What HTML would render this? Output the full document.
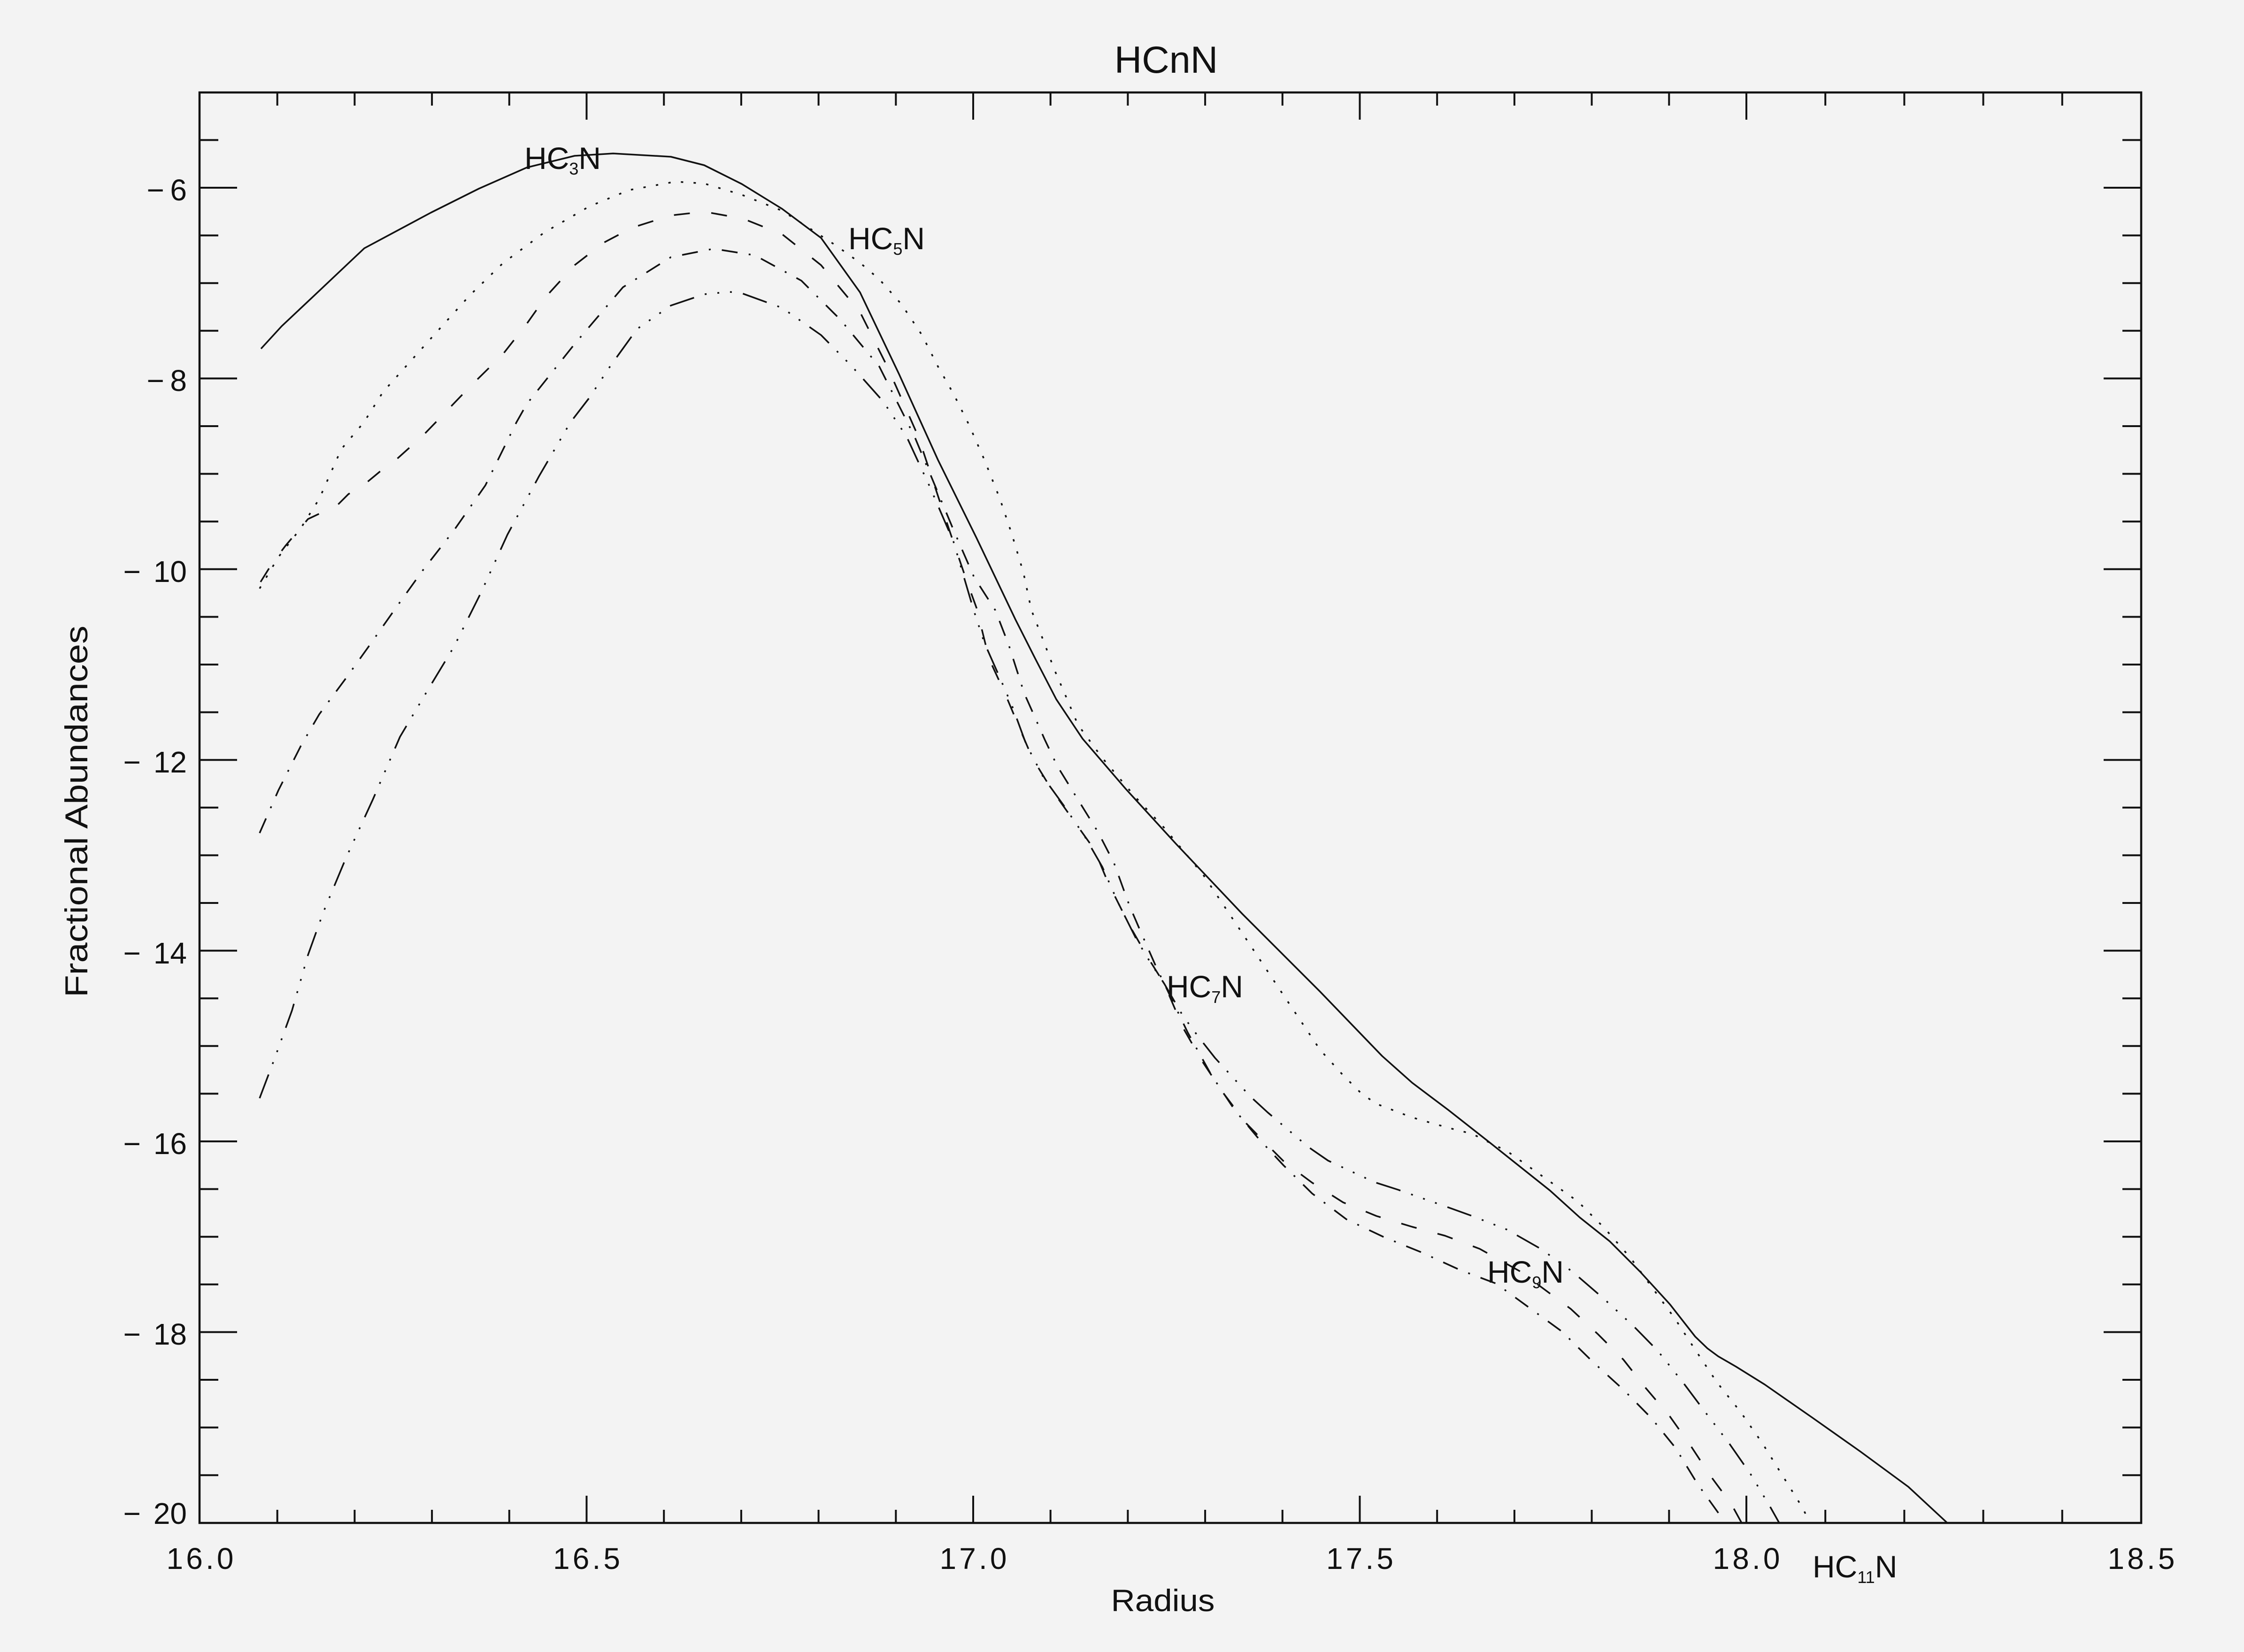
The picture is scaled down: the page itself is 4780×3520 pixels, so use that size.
<!DOCTYPE html>
<html>
<head>
<meta charset="utf-8">
<style>
html,body{margin:0;padding:0;background:#f3f3f3;}
svg{display:block;}
text{font-family:"Liberation Sans",sans-serif;fill:#111;}
</style>
</head>
<body>
<svg width="4780" height="3520" viewBox="0 0 4780 3520" xmlns="http://www.w3.org/2000/svg">
<rect x="0" y="0" width="4780" height="3520" fill="#f3f3f3"/>

<!-- Title -->
<text x="2484" y="155" font-size="81" text-anchor="middle">HCnN</text>

<!-- Axis box -->
<rect x="425" y="197" width="4136" height="3048" fill="none" stroke="#111" stroke-width="4.5"/>

<!-- X ticks -->
<g stroke="#111" stroke-width="4" fill="none">
<path d="M590.7 197v28M755.4 197v28M920.1 197v28M1084.8 197v28M1249.5 197v58M1414.2 197v28M1578.9 197v28M1743.6 197v28M1908.3 197v28M2073 197v58M2237.7 197v28M2402.4 197v28M2567.1 197v28M2731.8 197v28M2896.5 197v58M3061.2 197v28M3225.9 197v28M3390.6 197v28M3555.3 197v28M3720 197v58M3888.2 197v28M4056.4 197v28M4224.6 197v28M4392.8 197v28"/>
<path d="M590.7 3245v-28M755.4 3245v-28M920.1 3245v-28M1084.8 3245v-28M1249.5 3245v-58M1414.2 3245v-28M1578.9 3245v-28M1743.6 3245v-28M1908.3 3245v-28M2073 3245v-58M2237.7 3245v-28M2402.4 3245v-28M2567.1 3245v-28M2731.8 3245v-28M2896.5 3245v-58M3061.2 3245v-28M3225.9 3245v-28M3390.6 3245v-28M3555.3 3245v-28M3720 3245v-58M3888.2 3245v-28M4056.4 3245v-28M4224.6 3245v-28M4392.8 3245v-28"/>
<!-- Y ticks left -->
<path d="M425 298.4h40M425 400h80M425 501.6h40M425 603.2h40M425 704.8h40M425 806.4h80M425 908h40M425 1009.6h40M425 1111.2h40M425 1212.8h80M425 1314.4h40M425 1416h40M425 1517.6h40M425 1619.2h80M425 1720.8h40M425 1822.4h40M425 1924h40M425 2025.6h80M425 2127.2h40M425 2228.8h40M425 2330.4h40M425 2432h80M425 2533.6h40M425 2635.2h40M425 2736.8h40M425 2838.4h80M425 2940h40M425 3041.6h40M425 3143.2h40"/>
<!-- Y ticks right -->
<path d="M4561 298.4h-40M4561 400h-80M4561 501.6h-40M4561 603.2h-40M4561 704.8h-40M4561 806.4h-80M4561 908h-40M4561 1009.6h-40M4561 1111.2h-40M4561 1212.8h-80M4561 1314.4h-40M4561 1416h-40M4561 1517.6h-40M4561 1619.2h-80M4561 1720.8h-40M4561 1822.4h-40M4561 1924h-40M4561 2025.6h-80M4561 2127.2h-40M4561 2228.8h-40M4561 2330.4h-40M4561 2432h-80M4561 2533.6h-40M4561 2635.2h-40M4561 2736.8h-40M4561 2838.4h-80M4561 2940h-40M4561 3041.6h-40M4561 3143.2h-40"/>
</g>

<!-- X tick labels -->
<g font-size="64" text-anchor="middle">
<text x="426" y="3343" textLength="143" lengthAdjust="spacing">16.0</text>
<text x="1249.5" y="3343" textLength="143" lengthAdjust="spacing">16.5</text>
<text x="2073" y="3343" textLength="143" lengthAdjust="spacing">17.0</text>
<text x="2896.5" y="3343" textLength="143" lengthAdjust="spacing">17.5</text>
<text x="3720" y="3343" textLength="143" lengthAdjust="spacing">18.0</text>
<text x="4561" y="3343" textLength="143" lengthAdjust="spacing">18.5</text>
</g>

<!-- Y tick labels -->
<g font-size="64" text-anchor="end">
<text x="398" y="427">6</text><text x="350" y="427">−</text>
<text x="398" y="833">8</text><text x="350" y="833">−</text>
<text x="398" y="1240">10</text><text x="300" y="1240">−</text>
<text x="398" y="1646">12</text><text x="300" y="1646">−</text>
<text x="398" y="2053">14</text><text x="300" y="2053">−</text>
<text x="398" y="2459">16</text><text x="300" y="2459">−</text>
<text x="398" y="2865">18</text><text x="300" y="2865">−</text>
<text x="398" y="3247">20</text><text x="300" y="3247">−</text>
</g>

<!-- Axis titles -->
<text x="2477" y="3433" font-size="66" text-anchor="middle" textLength="221" lengthAdjust="spacingAndGlyphs">Radius</text>
<text transform="translate(186,1729) rotate(-90)" font-size="68" text-anchor="middle" textLength="792" lengthAdjust="spacingAndGlyphs">Fractional Abundances</text>

<!-- Curves -->
<g fill="none" stroke="#111" stroke-width="3.5" stroke-linejoin="round">
<!-- HC3N solid -->
<polyline points="556,743 600,695 668,631 776,529 918,453 1020,402 1122,357 1224,332 1306,327 1429,334 1500,352 1580,392 1666,445 1749,507 1832,623 1915,797 1998,980 2080,1146 2163,1320 2205,1403 2250,1490 2306,1574 2398,1681 2505,1798 2646,1947 2812,2113 2944,2250 3008,2307 3085,2365 3174,2435 3238,2486 3302,2537 3365,2594 3429,2645 3493,2709 3557,2779 3611,2848 3637,2873 3660,2890 3698,2912 3759,2950 3861,3021 3963,3093 4065,3168 4148,3245"/>
<!-- HC5N dotted -->
<polyline stroke-dasharray="5 22" points="553,1254 593,1187 641,1125 680,1063 727,957 775,900 816,835 918,721 1000,630 1071,561 1160,495 1255,440 1340,405 1439,387 1500,391 1580,415 1666,449 1730,490 1782,524 1832,560 1873,595 1920,648 1964,714 1998,781 2031,839 2064,905 2097,980 2130,1063 2155,1137 2180,1220 2197,1300 2221,1361 2246,1427 2271,1485 2296,1544 2348,1615 2420,1700 2480,1764 2563,1864 2646,1988 2729,2113 2812,2237 2860,2290 2900,2330 2932,2352 3008,2381 3085,2403 3136,2416 3212,2454 3302,2518 3361,2560 3417,2616 3473,2680 3519,2743 3568,2810 3611,2876 3657,2945 3708,3009 3754,3075 3795,3141 3838,3210 3856,3245"/>
<!-- HC7N dashed -->
<polyline stroke-dasharray="34 46" points="555,1240 580,1200 608,1163 656,1106 690,1090 718,1077 742,1053 780,1029 809,1005 842,981 900,929 930,898 1000,825 1071,755 1122,690 1163,632 1224,565 1286,517 1347,485 1429,459 1500,451 1583,466 1666,499 1749,565 1832,665 1890,781 1956,930 2022,1129 2060,1240 2080,1295 2107,1404 2141,1478 2169,1545 2199,1615 2240,1682 2281,1740 2331,1810 2360,1880 2406,1972 2445,2040 2480,2096 2520,2190 2560,2260 2605,2328 2655,2394 2700,2440 2737,2477 2795,2520 2861,2562 2932,2591 3008,2614 3078,2633 3152,2661 3238,2709 3346,2789 3404,2843 3458,2897 3506,2958 3557,3018 3601,3080 3643,3144 3688,3205 3710,3245"/>
<!-- HC9N dash-dot -->
<polyline stroke-dasharray="34 24 4 24" points="553,1775 593,1684 641,1589 680,1522 737,1445 785,1378 842,1297 900,1216 967,1130 1034,1034 1100,900 1122,861 1224,733 1327,612 1429,548 1520,530 1608,544 1707,598 1790,681 1873,781 1948,930 2031,1129 2075,1230 2120,1300 2149,1375 2182,1478 2199,1516 2225,1575 2252,1632 2300,1710 2339,1773 2373,1839 2406,1930 2431,1988 2464,2063 2480,2096 2530,2200 2580,2290 2630,2365 2680,2425 2734,2483 2795,2543 2868,2598 2948,2636 3027,2668 3110,2706 3187,2735 3257,2786 3327,2837 3391,2900 3458,2961 3518,3022 3569,3085 3616,3162 3667,3233 3672,3245"/>
<!-- HC11N dash-dot-dot-dot -->
<polyline stroke-dasharray="54 24 4 23 4 23 4 24" points="553,2340 584,2258 622,2153 656,2035 689,1943 737,1828 794,1704 852,1570 909,1474 967,1378 1024,1264 1081,1139 1148,1015 1215,900 1255,848 1300,780 1357,701 1429,651 1500,627 1551,622 1575,623 1666,656 1749,714 1815,781 1881,855 1931,930 1981,1038 2031,1154 2074,1300 2097,1370 2132,1449 2157,1507 2186,1586 2223,1657 2265,1715 2310,1781 2348,1847 2381,1922 2420,2000 2450,2050 2480,2096 2520,2165 2555,2212 2588,2254 2663,2336 2700,2370 2787,2444 2829,2473 2928,2519 2978,2535 3086,2573 3136,2591 3210,2620 3282,2661 3350,2710 3416,2767 3479,2825 3531,2878 3586,2947 3634,3011 3683,3075 3729,3141 3772,3213 3790,3245"/>
</g>

<!-- Curve labels -->
<g font-size="66">
<text x="1117" y="360">HC<tspan font-size="36" dy="12">3</tspan><tspan dy="-12">N</tspan></text>
<text x="1807" y="531">HC<tspan font-size="36" dy="12">5</tspan><tspan dy="-12">N</tspan></text>
<text x="2485" y="2125">HC<tspan font-size="36" dy="12">7</tspan><tspan dy="-12">N</tspan></text>
<text x="3168" y="2733">HC<tspan font-size="36" dy="12">9</tspan><tspan dy="-12">N</tspan></text>
<text x="3861" y="3361">HC<tspan font-size="36" dy="12">11</tspan><tspan dy="-12">N</tspan></text>
</g>
</svg>
</body>
</html>
